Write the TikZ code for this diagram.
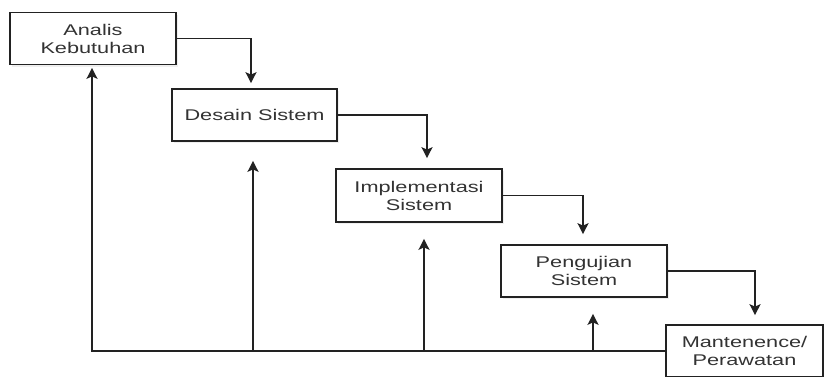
\documentclass[tikz,border=0pt]{standalone}
\usepackage{fontspec}
\setmainfont[FakeStretch=1.4]{Liberation Sans}
\usetikzlibrary{arrows.meta,shadows,calc}
\definecolor{ink}{HTML}{222222}
\definecolor{txt}{HTML}{333333}
\begin{document}
\begin{tikzpicture}[x=1pt,y=-1pt,
  stagebox/.style={draw=ink,line width=1.7pt,fill=white,rectangle,
    minimum width=166pt,minimum height=52pt,align=center,text=txt,
    font=\fontsize{15.5}{18}\selectfont,
    drop shadow={shadow xshift=1.5pt,shadow yshift=-2pt,opacity=0.12,fill=gray}},
  flow/.style={draw=ink,line width=1.7pt,-{Stealth[length=11pt,width=11pt,inset=2.5pt]}}]
\useasboundingbox (0,0) rectangle (824,376);
\clip (0,0) rectangle (824,376);
\fill[white] (0,0) rectangle (824,376);
\node[stagebox] (b1) at (93,38.5) {Analis\\Kebutuhan};
\node[stagebox,minimum width=165pt] (b2) at (254.5,115) {Desain Sistem};
\node[stagebox,minimum height=53pt] (b3) at (419,195.5) {Implementasi\\Sistem};
\node[stagebox] (b4) at (584,271) {Pengujian\\Sistem};
\node[stagebox,minimum width=157pt] (b5) at (744.5,351) {Mantenence/\\Perawatan};
% forward flow
\draw[flow,shorten >=5pt] (b1.east) -| ([xshift=-3.5pt]b2.north);
\draw[flow,shorten >=10pt] (b2.east) -| ([xshift=8pt]b3.north);
\draw[flow,shorten >=10pt] (b3.east) -| ([xshift=-1pt]b4.north);
\draw[flow,shorten >=9pt] (b4.east) -| ([xshift=10.5pt]b5.north);
% feedback
\coordinate (j2) at (253,351);
\coordinate (j3) at (424,351);
\coordinate (j4) at (593,351);
\draw[flow,shorten >=2.5pt] (b5.west) -| ([xshift=-1pt]b1.south);
\draw[flow,shorten >=19pt] (j2) -- (j2 |- b2.south);
\draw[flow,shorten >=16pt] (j3) -- (j3 |- b3.south);
\draw[flow,shorten >=16pt] (j4) -- (j4 |- b4.south);
\end{tikzpicture}
\end{document}
